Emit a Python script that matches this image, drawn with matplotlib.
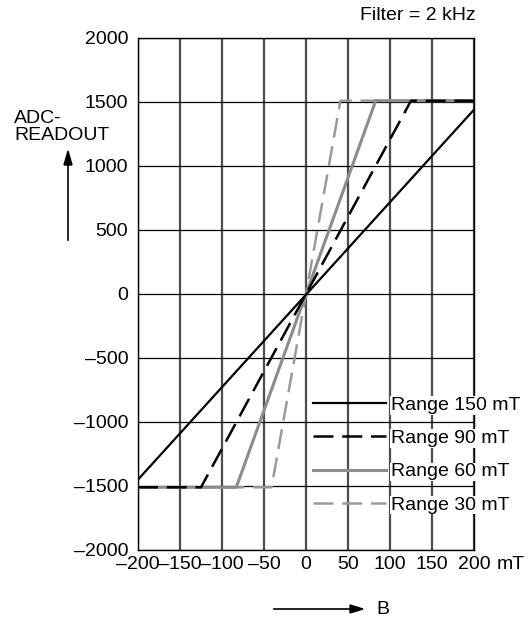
import matplotlib.pyplot as plt

plt.rcParams["font.family"] = ["Liberation Sans", "DejaVu Sans"]
plt.rcParams["font.size"] = 14

# field B (mT) vs ADC readout, filter 2 kHz
b_150 = [-200, 200]
adc_150 = [-1450, 1440]
b_90 = [-200, -125, 125, 200]
adc_90 = [-1510, -1510, 1510, 1510]
b_60 = [-200, -83, 83, 200]
adc_60 = [-1510, -1510, 1510, 1510]
b_30 = [-200, -41, 41, 200]
adc_30 = [-1510, -1510, 1510, 1510]

xticks = [-200, -150, -100, -50, 0, 50, 100, 150, 200]
xlabels = ["\u2013200", "\u2013150", "\u2013100", "\u201350", "0", "50", "100", "150", "200"]
yticks = [-2000, -1500, -1000, -500, 0, 500, 1000, 1500, 2000]
ylabels = ["\u20132000", "\u20131500", "\u20131000", "\u2013500", "0", "500", "1000", "1500", "2000"]

fig = plt.figure(figsize=(5.32, 6.18), dpi=100)
ax = fig.add_axes([138 / 532, 1 - 550 / 618, 336 / 532, 512 / 618])

for x in xticks:
    ax.axvline(x, color="#4d4d4d", lw=1.6, zorder=0)
for y in yticks:
    ax.axhline(y, color="black", lw=0.9, zorder=0)

ax.plot(b_150, adc_150, color="black", lw=1.6, zorder=5, label="Range 150 mT")
ax.plot(b_90, adc_90, color="black", lw=1.8, ls=(0, (8, 3.5)), zorder=4, label="Range 90 mT")
ax.plot(b_60, adc_60, color="#8c8c8c", lw=2.2, zorder=3, label="Range 60 mT")
ax.plot(b_30, adc_30, color="#9a9a9a", lw=1.8, ls=(0, (8, 3.5)), zorder=2, label="Range 30 mT")

ax.set_xlim(-200, 200)
ax.set_ylim(-2000, 2000)
ax.set_xticks(xticks, xlabels)
ax.set_yticks(yticks, ylabels)
ax.tick_params(length=0)
ax.tick_params(axis="y", pad=7)
ax.tick_params(axis="x", pad=4)
for s in ax.spines.values():
    s.set_color("black")
    s.set_linewidth(1.0)
ax.annotate("mT", xy=(1, 0), xycoords="axes fraction", xytext=(16.5, -4),
            textcoords="offset points", ha="left", va="top")

leg = ax.legend(loc="upper left", bbox_to_anchor=(0.521, 0.30), frameon=False,
                handlelength=3.75, handletextpad=0.26, labelspacing=0.8,
                borderaxespad=0, borderpad=0)
for t in leg.get_texts():
    t.set_bbox(dict(facecolor="white", edgecolor="none", pad=0.5))

fig.text(476 / 532, 1 - 15 / 618, "Filter = 2 kHz", ha="right", va="center")
fig.text(14 / 532, 1 - 127 / 618, "ADC-\nREADOUT", ha="left", va="center", linespacing=1.0)
fig.add_artist(plt.Line2D([68 / 532, 68 / 532], [1 - 240 / 618, 1 - 165 / 618],
                          color="black", lw=1.2))
fig.patches.append(plt.Polygon([[64 / 532, 1 - 165 / 618], [72 / 532, 1 - 165 / 618],
                                [68 / 532, 1 - 151 / 618]], closed=True, color="black",
                               transform=fig.transFigure, figure=fig))
fig.add_artist(plt.Line2D([274 / 532, 350 / 532], [1 - 609 / 618, 1 - 609 / 618],
                          color="black", lw=1.2))
fig.patches.append(plt.Polygon([[350 / 532, 1 - 605 / 618], [350 / 532, 1 - 613 / 618],
                                [363 / 532, 1 - 609 / 618]], closed=True, color="black",
                               transform=fig.transFigure, figure=fig))
fig.text(376 / 532, 1 - 609 / 618, "B", ha="left", va="center")

fig.savefig("out.png", dpi=100)
